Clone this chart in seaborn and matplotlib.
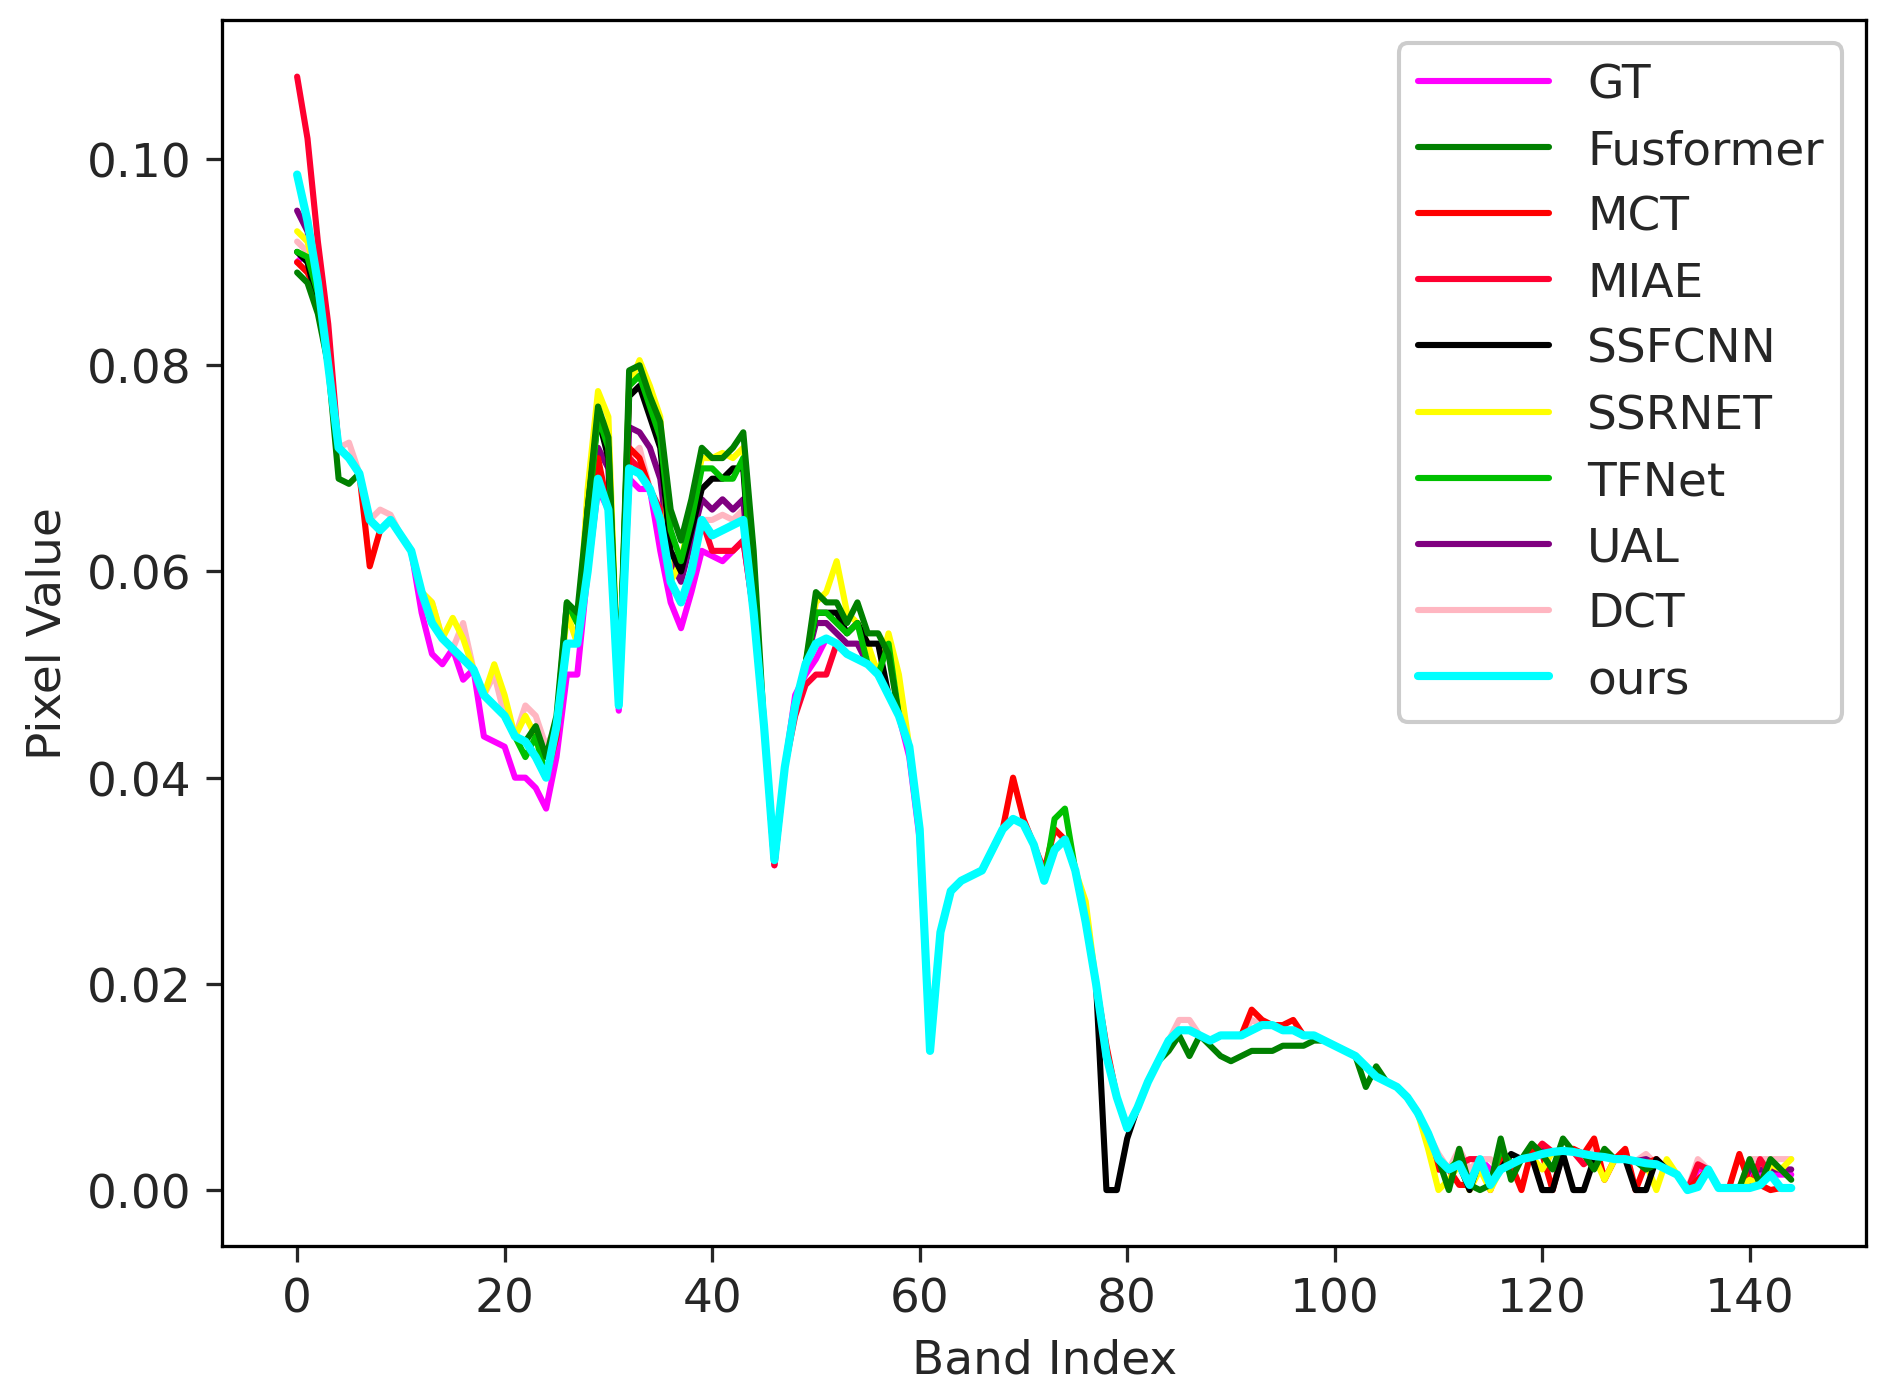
import numpy as np
import pandas as pd
import matplotlib
matplotlib.use("Agg")
import matplotlib.pyplot as plt
import seaborn as sns

bands = list(range(145))
# 'ours' curve, values in units of 1e-3
ours = [98.5,94,88,80,72,71,69.5,65,64,65,63.5,62,58,55,53.5,52.5,51.5,50.5,48,47,
        46,44,43.5,42,40,45,53,53,60,69,66,47,70,69.5,68,65,59,57,60,65,
        63.5,64,64.5,65,56,45,32,41,47,51,53,53.5,53,52,51.5,51,50,48,46,43,
        35,13.5,25,29,30,30.5,31,33,35,36,35.5,33.5,30,33,34,31,26,20,13,9,
        6,8,10.5,12.5,14.5,15.5,15.5,15,14.5,15,15,15,15.5,16,16,15.5,15.5,15,15,14.5,
        14,13.5,13,12,11,10.5,10,9,7.5,5.5,3,2,2.5,0.5,3,0.5,2,2.5,3,3.2,
        3.5,3.7,3.8,3.7,3.5,3.3,3.2,3,3,2.8,2.6,2.5,2,1.5,0,0.3,2,0.2,0.2,0.2,
        0.2,0.5,1.5,0.2,0.2]

# per-method values that differ from 'ours' (band: value, 1e-3 units)
gt_diff = {0:90,1:91,2:86,12:56,13:52,14:51,16:49.5,18:44,19:43.5,20:43,21:40,22:40,23:39,24:37,25:42,26:50,27:50,
           29:68,31:46.5,32:69,33:68,35:62,36:57,37:54.5,38:58,39:62,40:61.5,41:61,42:62,43:63,46:31.5,48:48,49:50,50:51.5,
           59:42,60:34,110:2,113:1,115:2,130:3,135:2,140:1.5,141:1.5,142:1.5,143:1.5,144:1.5}
fus_diff = {0:89,1:88,2:85,4:69,5:68.5,23:45,24:42,25:46,26:57,27:56,28:66,29:76,30:73,31:47,32:79.5,33:80,34:77,35:74.5,36:66,
            37:63,38:67,39:72,40:71,41:71,42:72,43:73.5,44:62,50:58,51:57,52:57,53:55,54:57,55:54,56:54,57:52,
            84:13.5,85:15,86:13,87:15,88:14,89:13,90:12.5,91:13,92:13.5,93:13.5,94:13.5,95:14,96:14,97:14,98:14.5,
            102:13,103:10,104:12,111:0,112:4,114:0,116:5,117:1,119:4.5,121:2,122:5,125:2,126:4,130:2,140:3,142:3,143:2,144:1}
mct_diff = {0:90,1:89,2:87,7:60.5,25:44,29:71,32:72,33:71,69:40,70:36,72:31,73:35,78:14,92:17.5,93:16.5,95:16,96:16.5,
            110:2,112:0.5,115:0,116:3,118:0,119:4,121:0,123:4,125:5,126:1,128:4,129:0,131:3,135:1,139:3.5,140:0.5,142:0}
miae_diff = {0:108,1:102,2:92,3:84,29:70,32:71,33:70,35:66,40:62,41:62,42:62,43:63,46:31.5,48:46,49:49,50:50,51:50,
             110:3,113:3,116:4,120:4.5,124:2.5,135:2.5,141:3}
ssf_diff = {0:91,1:90,2:86,28:66,29:75,30:71,32:77,33:78,34:75,35:72,36:62,37:60,38:64,39:68,40:69,41:69,42:70,43:70,
            50:56,51:56,52:56,53:54,54:55,55:53,56:53,77:20,78:0,79:0,80:5,113:0,116:2,117:3.5,120:0,121:0,122:3.5,
            123:0,124:0,125:3,128:3,129:0,130:0,131:3}
ssr_diff = {0:93,1:92,2:88,13:57,15:55.5,16:53.5,19:51,20:48,22:46,23:44,26:56,28:68,29:77.5,30:75,32:78,33:80.5,34:78,
            35:75,37:61,38:66,39:71,40:71,41:71.5,42:71,43:72,50:57,51:58,52:61,53:56,54:55,55:53,57:54,58:50,
            76:28,109:4,110:0,111:1,113:0,114:2,115:0,120:2,126:1,131:0,132:3,140:1,142:2.5,143:2,144:3}
tfn_diff = {0:91,1:90.5,2:87,22:42,23:44,26:57,27:55,28:65,29:75,30:72,32:78,33:79,34:76,35:73,36:64,37:61,38:65,39:70,
            40:70,41:69,42:69,43:71,50:56,51:56,52:55,53:54,54:55,57:53,73:36,74:37,112:3,116:4}
ual_diff = {0:95,1:93,2:88,28:64,29:72,30:70,32:74,33:73.5,34:72,35:69,36:61,37:59,38:63,39:67,40:66,41:67,42:66,43:67,
            50:55,51:55,52:54,53:53,54:53,110:3,120:4,130:3,140:2,141:2,142:2,143:2,144:2}
dct_diff = {0:92,1:91,2:88,5:72.5,8:66,9:65.5,13:57,16:55,19:50,22:47,23:46,24:43,29:70,32:71,33:72,40:65,41:65.5,42:65,43:66,
            85:16.5,86:16.5,92:16.5,110:3.5,112:4,113:2,115:3,120:4.5,125:4,130:3.5,135:3,140:3,141:3,142:3,143:3,144:3}

names = ["GT","Fusformer","MCT","MIAE","SSFCNN","SSRNET","TFNet","UAL","DCT","ours"]
diffs = [gt_diff,fus_diff,mct_diff,miae_diff,ssf_diff,ssr_diff,tfn_diff,ual_diff,dct_diff,{}]
colors = ["#ff00ff","#008000","#ff0000","#ff0030","#000000","#ffff00","#00c000","#800080","#ffb6c1","#00ffff"]
draw_order = ["GT","DCT","UAL","MIAE","MCT","SSRNET","SSFCNN","TFNet","Fusformer","ours"]

rows = []
for n, d in zip(names, diffs):
    vals = list(ours)
    for k, v in d.items():
        vals[k] = v
    for b, v in zip(bands, vals):
        rows.append({"Band Index": b, "Pixel Value": v / 1000.0, "method": n})
df = pd.DataFrame(rows)

sns.set_style("white")
plt.rcParams["font.family"] = ["DejaVu Sans"]
fig, ax = plt.subplots(figsize=(6.4, 4.73), dpi=294.5)
handles = {}
for n in draw_order:
    i = names.index(n)
    sub = df[df["method"] == n]
    sns.lineplot(data=sub, x="Band Index", y="Pixel Value", color=colors[i],
                 lw=2.0 if n == "ours" else 1.5, ax=ax, label=n, zorder=3 if n == "ours" else 2)
h, l = ax.get_legend_handles_labels()
hm = dict(zip(l, h))
ax.legend([hm[n] for n in names], names, loc="upper right", fontsize=11.5,
          handlelength=2.8, labelspacing=0.45, framealpha=1)
for s in ax.spines.values():
    s.set_color("black")
    s.set_linewidth(0.8)
ax.tick_params(axis="both", which="both", length=4, direction="out", left=True, bottom=True, labelsize=11.5)
ax.set_xlabel("Band Index", fontsize=11.5)
ax.set_ylabel("Pixel Value", fontsize=11.5)
ax.set_xlim(-7.2, 151.2)
ax.set_ylim(-0.0054, 0.1135)
ax.set_xticks([0,20,40,60,80,100,120,140])
ax.set_yticks([0.0,0.02,0.04,0.06,0.08,0.10])
ax.set_yticklabels(["0.00","0.02","0.04","0.06","0.08","0.10"])
plt.subplots_adjust(left=0.118, right=0.99, top=0.985, bottom=0.105)
fig.savefig("out.png", dpi=294.5)
